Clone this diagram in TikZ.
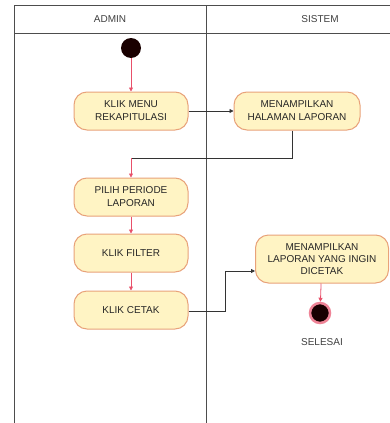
\documentclass[tikz,border=0pt]{standalone}
\usepackage{fontspec}
\setmainfont{Liberation Sans}
\usetikzlibrary{arrows.meta}
\definecolor{lane}{HTML}{4D4D4D}
\definecolor{actfill}{HTML}{FFF4C4}
\definecolor{actline}{HTML}{E8A27A}
\definecolor{flowred}{HTML}{E8506A}
\definecolor{flowdark}{HTML}{333333}
\tikzset{
  actbox/.style={draw=actline, fill=actfill, line width=1pt, rounded corners=13pt,
    minimum width=114pt, minimum height=38pt, align=center, inner sep=2pt,
    font=\fontsize{10}{13}\selectfont, text=black!85},
  lanetitle/.style={font=\fontsize{10}{12}\selectfont, text=black!75},
  redflow/.style={draw=flowred, line width=0.8pt, -{Triangle[length=4pt,width=4pt]}},
  darkflow/.style={draw=flowdark, line width=0.8pt, -{Triangle[length=4pt,width=4pt]}},
  laneline/.style={draw=lane, line width=0.9pt}
}
\begin{document}
\begin{tikzpicture}[x=1pt,y=-1pt]
  \useasboundingbox[fill=white] (0,0) rectangle (390,423);
  % swimlanes
  \draw[laneline] (14,423) -- (14,5) -- (390,5);
  \draw[laneline] (14,33) -- (390,33);
  \draw[laneline] (206,5) -- (206,423);
  \node[lanetitle] (admin) at (110,19) {ADMIN};
  \node[lanetitle] (sistem) at (320,19) {SISTEM};
  % start and end
  \node[circle, fill=black!90!red, minimum size=20pt, inner sep=0pt] (start) at (131,48) {};
  \node[circle, fill=black!90!red, draw=flowred!70, line width=2.5pt, minimum size=20pt, inner sep=0pt] (end) at (320,313) {};
  \node[lanetitle] (selesai) at (322,342) {SELESAI};
  % activities
  \node[actbox] (menu) at (131,111) {KLIK MENU\\REKAPITULASI};
  \node[actbox, minimum width=126pt] (hal) at (297,111) {MENAMPILKAN\\HALAMAN LAPORAN};
  \node[actbox] (periode) at (131,197) {PILIH PERIODE\\LAPORAN};
  \node[actbox] (filter) at (131,253) {KLIK FILTER};
  \node[actbox] (cetak) at (131,310) {KLIK CETAK};
  \node[actbox, minimum width=133pt, minimum height=48pt, font=\fontsize{10}{12}\selectfont] (lap) at (322,259) {MENAMPILKAN\\LAPORAN YANG INGIN\\DICETAK};
  % flows
  \coordinate (bend1) at (292,158);
  \coordinate (bend2) at (131,158);
  \coordinate (bend3) at (225,311);
  \coordinate (bend4) at (225,271);
  \draw[redflow] (start) -- (menu);
  \draw[darkflow] (menu) -- (hal);
  \draw[draw=flowdark, line width=0.8pt] (hal.south -| bend1) -- (bend1) -- (bend2);
  \draw[redflow] (bend2) -- (periode);
  \draw[redflow] (periode) -- (filter);
  \draw[redflow] (filter) -- (cetak);
  \draw[darkflow] (cetak.east |- bend3) -- (bend3) -- (bend4) -- (lap.west |- bend4);
  \draw[redflow] (lap) -- (end);
\end{tikzpicture}
\end{document}
